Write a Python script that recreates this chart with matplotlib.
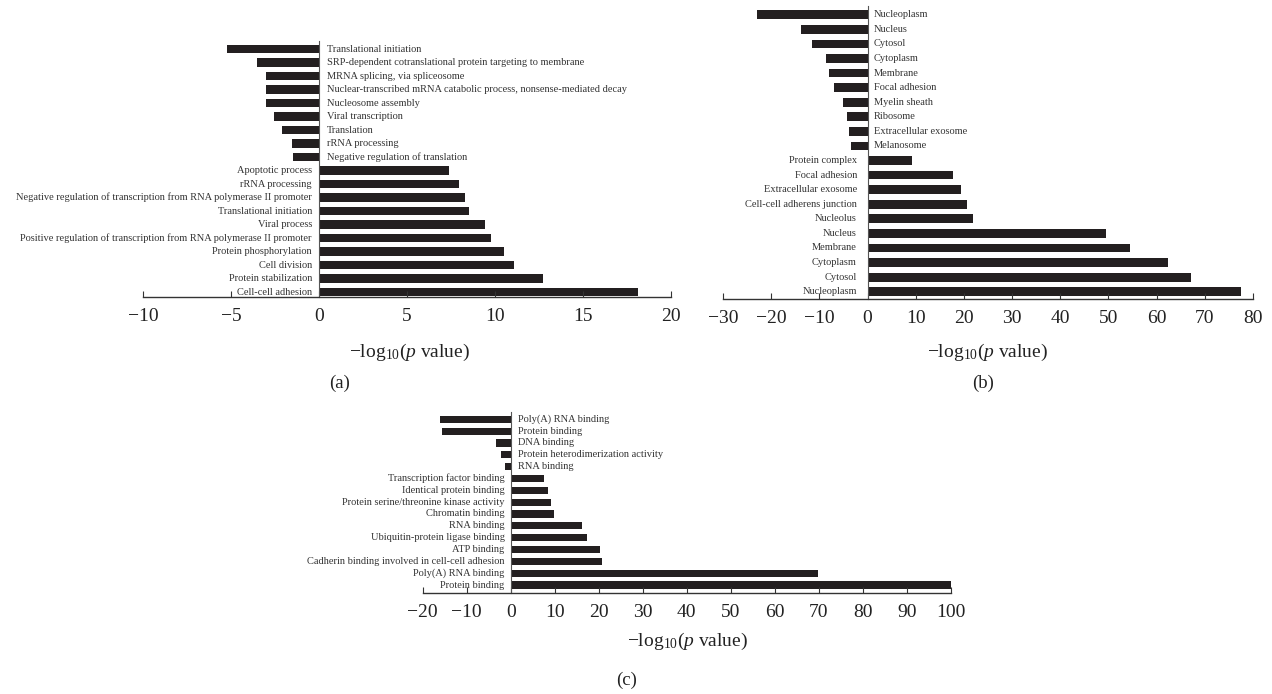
import matplotlib.pyplot as plt

plt.rcParams['font.family'] = ['Liberation Serif', 'DejaVu Serif']
plt.rcParams['mathtext.fontset'] = 'custom'
plt.rcParams['mathtext.rm'] = 'Liberation Serif'
plt.rcParams['mathtext.it'] = 'Liberation Serif:italic'

# panel (a) - biological process (top to bottom)
bp_terms = ['Translational initiation',
            'SRP-dependent cotranslational protein targeting to membrane',
            'MRNA splicing, via spliceosome',
            'Nuclear-transcribed mRNA catabolic process, nonsense-mediated decay',
            'Nucleosome assembly', 'Viral transcription', 'Translation',
            'rRNA processing', 'Negative regulation of translation',
            'Apoptotic process', 'rRNA processing',
            'Negative regulation of transcription from RNA polymerase II promoter',
            'Translational initiation', 'Viral process',
            'Positive regulation of transcription from RNA polymerase II promoter',
            'Protein phosphorylation', 'Cell division', 'Protein stabilization',
            'Cell-cell adhesion']
bp_vals = [-5.2, -3.5, -3.0, -3.0, -3.0, -2.55, -2.1, -1.55, -1.5,
           7.4, 7.95, 8.3, 8.5, 9.45, 9.8, 10.5, 11.1, 12.7, 18.1]

# panel (b) - cellular component
cc_terms = ['Nucleoplasm', 'Nucleus', 'Cytosol', 'Cytoplasm', 'Membrane',
            'Focal adhesion', 'Myelin sheath', 'Ribosome',
            'Extracellular exosome', 'Melanosome',
            'Protein complex', 'Focal adhesion', 'Extracellular exosome',
            'Cell-cell adherens junction', 'Nucleolus', 'Nucleus', 'Membrane',
            'Cytoplasm', 'Cytosol', 'Nucleoplasm']
cc_vals = [-22.9, -13.8, -11.5, -8.7, -8.1, -7.0, -5.0, -4.3, -3.8, -3.5,
           9.2, 17.7, 19.3, 20.6, 21.9, 49.4, 54.4, 62.4, 67.1, 77.5]

# panel (c) - molecular function
mf_terms = ['Poly(A) RNA binding', 'Protein binding', 'DNA binding',
            'Protein heterodimerization activity', 'RNA binding',
            'Transcription factor binding', 'Identical protein binding',
            'Protein serine/threonine kinase activity', 'Chromatin binding',
            'RNA binding', 'Ubiquitin-protein ligase binding', 'ATP binding',
            'Cadherin binding involved in cell-cell adhesion',
            'Poly(A) RNA binding', 'Protein binding']
mf_vals = [-16.1, -15.7, -3.4, -2.3, -1.4,
           7.5, 8.4, 9.1, 9.8, 16.1, 17.3, 20.2, 20.7, 69.8, 100.2]

bar_color = '#231f20'
xlab = r'$-\mathrm{log}_{10}(p\ \mathrm{value})$'

W, H = 1272, 694
fig = plt.figure(figsize=(W / 100, H / 100), dpi=100)


def px_axes(x0, x1, ytop, ybot):
    return fig.add_axes([x0 / W, 1 - ybot / H, (x1 - x0) / W, (ybot - ytop) / H])


def draw(ax, terms, vals, xlim, ticks, ybottom, fs, gap_l, gap_r):
    n = len(terms)
    pos = list(range(n))
    ax.barh(pos, vals, height=0.6, color=bar_color)
    for p, t, v in zip(pos, terms, vals):
        if v < 0:
            ax.text(gap_l, p, t, ha='left', va='center', fontsize=fs, color='#333333')
        else:
            ax.text(-gap_r, p, t, ha='right', va='center', fontsize=fs, color='#333333')
    ax.set_xlim(*xlim)
    ax.set_ylim(ybottom, -0.6)
    ax.set_xticks(ticks)
    ax.set_xticklabels([str(t).replace('-', '\u2212') for t in ticks])
    ax.set_yticks([])
    for s in ['top', 'right']:
        ax.spines[s].set_visible(False)
    ax.spines['left'].set_position(('data', 0))
    ax.spines['left'].set_linewidth(0.8)
    ax.spines['left'].set_color('#555555')
    ax.spines['bottom'].set_linewidth(1.0)
    ax.spines['bottom'].set_color('#333333')
    ax.tick_params(axis='x', direction='in', length=4, labelsize=14,
                   pad=8, color='#333333', labelcolor='#222222')
    ax.patch.set_alpha(0)


ax_a = px_axes(143, 671, 40.9, 297)
draw(ax_a, bp_terms, bp_vals, (-10, 20), list(range(-10, 21, 5)), 18.37, 7.5, 0.45, 0.4)

ax_b = px_axes(723, 1253, 6, 299)
draw(ax_b, cc_terms, cc_vals, (-30, 80), list(range(-30, 81, 10)), 19.5, 7.5, 1.3, 2.2)

ax_c = px_axes(422.7, 950.7, 412.2, 592.7)
draw(ax_c, mf_terms, mf_vals, (-20, 100), list(range(-20, 101, 10)), 14.65, 7.5, 1.75, 1.4)

fig.text(410 / W, 1 - 352 / H, xlab, ha='center', va='center', fontsize=14, color='#222222')
fig.text(988 / W, 1 - 352 / H, xlab, ha='center', va='center', fontsize=14, color='#222222')
fig.text(688 / W, 1 - 641 / H, xlab, ha='center', va='center', fontsize=14, color='#222222')

fig.text(340 / W, 1 - 383 / H, '(a)', ha='center', va='center', fontsize=13.5, color='#222222')
fig.text(983 / W, 1 - 383 / H, '(b)', ha='center', va='center', fontsize=13.5, color='#222222')
fig.text(627 / W, 1 - 680 / H, '(c)', ha='center', va='center', fontsize=13.5, color='#222222')

fig.savefig('out.png', dpi=100)
